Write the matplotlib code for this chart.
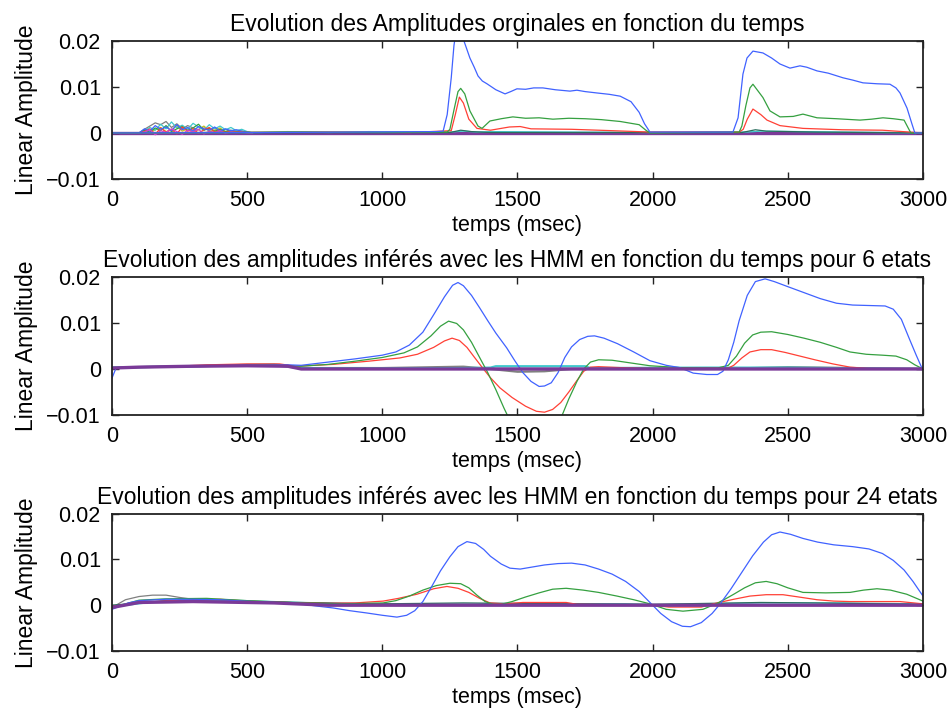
import matplotlib
matplotlib.use("Agg")
import matplotlib.pyplot as plt
from matplotlib.ticker import FixedLocator, FixedFormatter

plt.rcParams["font.family"] = ["Liberation Sans", "DejaVu Sans"]

# colours (MATLAB-like, as rendered)
C_BLUE = "#4062ff"
C_GREEN = "#35a040"
C_RED = "#ff4035"
C_CYAN = "#40c8cc"
C_GRAY = "#808080"
C_TEAL = "#2a6e5e"
C_YELLOW = "#c8c020"
C_MAG = "#d040d0"
C_PURPLE = "#7a3a98"

XTICKS = [0, 500, 1000, 1500, 2000, 2500, 3000]
YTICKS = [-0.01, 0, 0.01, 0.02]
YTICKLABELS = ["\u22120.01", "0", "0.01", "0.02"]

TITLES = [
    "Evolution des Amplitudes orginales en fonction du temps",
    "Evolution des amplitudes inférés avec les HMM en fonction du temps pour 6 etats",
    "Evolution des amplitudes inférés avec les HMM en fonction du temps pour 24 etats",
]

# ---------- subplot 1 : original amplitudes ----------
s1_blue_t = [0, 600, 900, 1200, 1225, 1240, 1255, 1265, 1275, 1290, 1305, 1324, 1340, 1354,
             1370, 1387, 1420, 1454, 1475, 1498, 1530, 1560, 1594, 1640, 1694, 1720, 1750,
             1794, 1840, 1880, 1920, 1950, 1970, 1990, 2297, 2316, 2334, 2349, 2371, 2408,
             2440, 2471, 2508, 2545, 2570, 2608, 2650, 2704, 2740, 2778, 2830, 2878, 2900,
             2915, 2941, 2959, 2970, 3000]
s1_blue_y = [0, 0.0001, 0.0002, 0.0003, 0.0004, 0.004, 0.012, 0.019, 0.023, 0.022, 0.0195,
             0.0163, 0.0143, 0.0124, 0.0113, 0.0107, 0.0094, 0.0085, 0.009, 0.0096, 0.0095,
             0.0098, 0.0098, 0.0094, 0.0091, 0.0093, 0.009, 0.0087, 0.0084, 0.008, 0.0068,
             0.0045, 0.002, 0.0002, 0.0002, 0.0033, 0.0128, 0.0163, 0.0178, 0.0174, 0.0163,
             0.015, 0.0141, 0.0146, 0.0143, 0.0135, 0.013, 0.012, 0.0115, 0.0109, 0.0107,
             0.0106, 0.0098, 0.0087, 0.0054, 0.002, 0, 0]

s1_green_t = [0, 700, 1000, 1240, 1250, 1265, 1280, 1290, 1305, 1324, 1354, 1369, 1398, 1440,
              1483, 1530, 1580, 1631, 1690, 1750, 1810, 1880, 1950, 1975, 1990, 2320, 2330,
              2345, 2360, 2371, 2408, 2434, 2471, 2520, 2556, 2608, 2680, 2767, 2810, 2852,
              2890, 2930, 2955, 3000]
s1_green_y = [0, 0.0002, 0.0001, 0.0002, 0.0008, 0.005, 0.009, 0.0097, 0.0085, 0.0048,
              0.0015, 0.001, 0.0026, 0.0031, 0.0035, 0.0032, 0.0033, 0.003, 0.0032, 0.0031,
              0.0029, 0.0025, 0.0018, 0.0006, 0, 0.0002, 0.0015, 0.006, 0.0098, 0.0106,
              0.0077, 0.0048, 0.0035, 0.0036, 0.0041, 0.0033, 0.0031, 0.0028, 0.003, 0.0033,
              0.0031, 0.0028, 0, 0]

s1_red_t = [0, 800, 1100, 1255, 1270, 1285, 1300, 1320, 1350, 1400, 1470, 1510, 1550, 1700,
            1850, 1990, 2320, 2335, 2350, 2371, 2400, 2423, 2471, 2556, 2700, 2850, 2950,
            3000]
s1_red_y = [0, 0.0002, 0.0001, 0.0005, 0.004, 0.0078, 0.0065, 0.003, 0.001, 0.0006, 0.0013,
            0.0014, 0.0009, 0.0008, 0.0005, 0.0002, 0.0002, 0.0008, 0.003, 0.0052, 0.004,
            0.0028, 0.0016, 0.001, 0.0007, 0.0006, 0.0002, 0]

s1_teal_t = [0, 1250, 1290, 1330, 1400, 2330, 2380, 2420, 2600, 3000]
s1_teal_y = [0, 0.0001, 0.0006, 0.0003, 0.0001, 0.0001, 0.0007, 0.0004, 0.0002, 0]

s1_cyan_t = [0, 550, 650, 800, 950, 1100, 1250, 1300, 1350, 1400, 2000, 2200, 2350, 2400, 3000]
s1_cyan_y = [0, 0.0001, 0.0003, 0.0001, 0.0003, 0.0002, 0.0002, 0.0004, 0.0002, 0.0003,
             0.0001, 0.0002, 0.0002, 0.0004, 0]

# noisy onset 100-520 ms
noise_t = [100, 120, 140, 160, 180, 200, 220, 240, 260, 280, 300, 320, 340, 360, 380, 400,
           420, 440, 460, 480, 500, 520]
noise_gray = [0, 0.0008, 0.0015, 0.0022, 0.0018, 0.0025, 0.0012, 0.002, 0.0009, 0.0016,
              0.0011, 0.0007, 0.0014, 0.0006, 0.001, 0.0004, 0.0008, 0.0003, 0.0005, 0.0002,
              0.0003, 0]
noise_cyan = [0, 0.0005, 0.0012, 0.0006, 0.0019, 0.0009, 0.0024, 0.0011, 0.0017, 0.0008,
              0.0021, 0.0013, 0.0006, 0.0018, 0.0009, 0.0015, 0.0007, 0.0012, 0.0005, 0.0008,
              0.0003, 0]
noise_blue = [0, 0.0009, 0.0004, 0.0016, 0.0008, 0.0013, 0.0005, 0.0018, 0.0007, 0.0012,
              0.0004, 0.0014, 0.0009, 0.0006, 0.0013, 0.0004, 0.0009, 0.0005, 0.0007, 0.0004,
              0.0002, 0]
noise_red = [0, 0.0003, 0.0009, -0.0003, 0.0011, 0.0002, 0.0008, -0.0002, 0.0013, 0.0004,
             0.0009, -0.0001, 0.0007, 0.0012, 0.0002, 0.0006, 0.0001, 0.0005, 0.0002, 0.0003,
             0.0001, 0]
noise_green = [0, 0.0006, 0.0002, 0.0011, 0.0005, 0.0016, 0.0003, 0.0009, 0.0014, 0.0005,
               0.0011, 0.0019, 0.0006, 0.001, 0.0004, 0.0008, 0.0003, 0.0006, 0.0002, 0.0004,
               0.0001, 0]
noise_mag = [0, 0.0002, 0.0007, -0.0004, 0.0005, 0.0001, 0.0009, 0.0003, -0.0003, 0.0006,
             0.0002, 0.0008, -0.0002, 0.0004, 0.0001, 0.0005, -0.0001, 0.0003, 0.0001, 0.0002,
             0, 0]
noise_yellow = [0, 0.0004, 0.0001, 0.0007, 0.0012, 0.0003, 0.0006, 0.0016, 0.0004, 0.0009,
                0.0002, 0.0007, 0.0015, 0.0003, 0.0006, 0.0011, 0.0002, 0.0005, 0.0003,
                0.0001, 0.0001, 0]

s1_base_t = [0, 3000]
s1_base_y = [0, 0]

# ---------- subplot 2 : HMM, 6 states ----------
s2_blue_t = [0, 15, 100, 300, 500, 650, 700, 800, 900, 1000, 1050, 1100, 1150, 1190, 1230,
             1260, 1280, 1300, 1330, 1360, 1390, 1420, 1460, 1490, 1520, 1550, 1580, 1600,
             1625, 1650, 1675, 1700, 1730, 1760, 1785, 1820, 1870, 1930, 1990, 2050, 2100,
             2150, 2200, 2240, 2260, 2280, 2300, 2320, 2350, 2380, 2416, 2450, 2500, 2560,
             2620, 2680, 2740, 2800, 2860, 2890, 2920, 2950, 2975, 2996]
s2_blue_y = [-0.002, 0.0002, 0.0004, 0.0005, 0.0007, 0.0009, 0.0008, 0.0015, 0.0022, 0.003,
             0.0037, 0.0052, 0.008, 0.0118, 0.0157, 0.0182, 0.0188, 0.0181, 0.016, 0.0133,
             0.0105, 0.0078, 0.0046, 0.0018, -0.0008, -0.0027, -0.0038, -0.0037, -0.003,
             -0.0008, 0.0025, 0.0048, 0.0064, 0.0071, 0.0072, 0.0067, 0.0055, 0.0037, 0.0018,
             0.0008, 0.0003, -0.0009, -0.0012, -0.0012, -0.0005, 0.002, 0.0058, 0.0105,
             0.016, 0.019, 0.0196, 0.019, 0.0179, 0.0166, 0.0153, 0.0143, 0.0139, 0.0138,
             0.0137, 0.013, 0.0108, 0.0065, 0.003, 0.0002]

s2_green_t = [0, 200, 400, 600, 700, 800, 900, 1000, 1080, 1130, 1180, 1215, 1245, 1275,
              1300, 1330, 1360, 1390, 1420, 1450, 1480, 1520, 1570, 1620, 1660, 1690, 1720,
              1745, 1770, 1800, 1850, 1920, 1990, 2100, 2240, 2280, 2310, 2340, 2370, 2400,
              2440, 2500, 2560, 2620, 2680, 2730, 2790, 2850, 2900, 2940, 2970, 3000]
s2_green_y = [0.0003, 0.0005, 0.0007, 0.0008, 0.0006, 0.001, 0.0017, 0.0025, 0.0035, 0.0048,
              0.0072, 0.0093, 0.0104, 0.0099, 0.0085, 0.0058, 0.0025, -0.0008, -0.0045,
              -0.0085, -0.0122, -0.0155, -0.017, -0.0155, -0.0108, -0.0065, -0.0027, 0,
              0.0015, 0.002, 0.0019, 0.0013, 0.0007, 0.0003, 0.0002, 0.0008, 0.0028, 0.0056,
              0.0074, 0.008, 0.0081, 0.0075, 0.0067, 0.0058, 0.0047, 0.0037, 0.0032, 0.003,
              0.0028, 0.002, 0.0009, 0]

s2_red_t = [0, 200, 350, 500, 620, 680, 818, 950, 1065, 1130, 1190, 1230, 1258, 1285, 1313,
            1340, 1370, 1400, 1435, 1480, 1530, 1570, 1600, 1630, 1660, 1690, 1720, 1745,
            1770, 1800, 1880, 2000, 2280, 2300, 2330, 2360, 2400, 2440, 2490, 2545, 2600,
            2667, 2730, 2800, 3000]
s2_red_y = [0.0002, 0.0005, 0.0009, 0.0011, 0.0011, 0.0006, 0.001, 0.0017, 0.0024, 0.0032,
            0.0047, 0.0061, 0.0067, 0.0062, 0.0047, 0.0026, 0.0003, -0.0019, -0.0041,
            -0.0062, -0.0081, -0.0092, -0.0094, -0.0088, -0.0073, -0.005, -0.0025, -0.0005,
            0.0004, 0.0005, 0.0003, 0.0001, 0.0002, 0.0008, 0.0024, 0.0037, 0.0042, 0.0042,
            0.0036, 0.0028, 0.002, 0.0011, 0.0004, 0.0001, 0]

s2_gray_t = [0, 200, 400, 600, 700, 1000, 1200, 1300, 1400, 1500, 1600, 1700, 2000, 2300,
             2500, 3000]
s2_gray_y = [0.0003, 0.0005, 0.0007, 0.0008, 0.0002, 0.0002, 0.0004, 0.0005, 0, -0.0006,
             -0.0005, 0, 0.0001, 0.0001, 0.0004, 0]

s2_cyan_t = [0, 300, 500, 600, 700, 1000, 1300, 1400, 1420, 1750, 1770, 2200, 2500, 3000]
s2_cyan_y = [0.0003, 0.0006, 0.0009, 0.001, 0.0002, 0.0001, 0.0002, 0.0003, 0.0006, 0.0006,
             0.0002, 0.0003, 0.0003, 0]

s2_base_t = [0, 100, 300, 500, 650, 700, 3000]
s2_base_y = [0.0002, 0.0004, 0.0006, 0.0007, 0.0006, 0, 0]

# ---------- subplot 3 : HMM, 24 states ----------
s3_blue_t = [0, 30, 60, 100, 200, 300, 400, 485, 600, 695, 760, 818, 880, 943, 1000, 1054,
             1090, 1120, 1150, 1180, 1215, 1250, 1280, 1313, 1345, 1375, 1400, 1440, 1472,
             1510, 1550, 1600, 1650, 1700, 1750, 1800, 1850, 1900, 1950, 1990, 2030, 2070,
             2110, 2140, 2180, 2220, 2250, 2290, 2330, 2370, 2410, 2440, 2471, 2510, 2556,
             2610, 2670, 2740, 2800, 2850, 2890, 2930, 2963, 3000]
s3_blue_y = [-0.0009, -0.0002, 0.0005, 0.001, 0.0013, 0.0013, 0.0012, 0.0009, 0.0006,
             0.0003, -0.0002, -0.0006, -0.0012, -0.0017, -0.0022, -0.0026, -0.0022, -0.0012,
             0.0008, 0.0038, 0.0075, 0.0106, 0.0128, 0.0139, 0.0135, 0.0122, 0.0107, 0.009,
             0.0081, 0.0079, 0.0083, 0.0088, 0.0091, 0.0092, 0.0088, 0.0079, 0.0068, 0.0052,
             0.003, 0.0006, -0.0018, -0.0036, -0.0046, -0.0047, -0.0038, -0.0018, 0.0003,
             0.0036, 0.0072, 0.0108, 0.0138, 0.0154, 0.016, 0.0155, 0.0146, 0.0138, 0.0132,
             0.0128, 0.0123, 0.0113, 0.0098, 0.0077, 0.0052, 0.002]

s3_green_t = [0, 100, 200, 350, 500, 700, 850, 1003, 1050, 1100, 1150, 1200, 1250, 1290,
              1320, 1350, 1380, 1410, 1440, 1480, 1530, 1580, 1630, 1680, 1743, 1800, 1868,
              1930, 1990, 2050, 2112, 2186, 2238, 2270, 2300, 2340, 2380, 2420, 2460, 2500,
              2556, 2640, 2730, 2780, 2830, 2880, 2940, 3000]
s3_green_y = [-0.0005, 0.0011, 0.0014, 0.0015, 0.001, 0.0005, 0.0003, 0.0005, 0.001, 0.002,
              0.0033, 0.0043, 0.0048, 0.0047, 0.0038, 0.0022, 0.0008, 0.0002, 0.0002, 0.0008,
              0.0018, 0.0027, 0.0035, 0.0037, 0.0033, 0.0028, 0.002, 0.0012, 0.0003, -0.0009,
              -0.0013, -0.0009, 0.0004, 0.0014, 0.0024, 0.0038, 0.0049, 0.0052, 0.0047,
              0.0038, 0.0028, 0.0027, 0.0028, 0.0033, 0.0036, 0.0033, 0.0024, 0.0009]

s3_red_t = [0, 100, 250, 400, 500, 700, 800, 900, 1003, 1060, 1128, 1190, 1239, 1280, 1320,
            1360, 1398, 1450, 1520, 1680, 1720, 2000, 2060, 2180, 2238, 2300, 2360, 2420,
            2482, 2540, 2608, 2670, 2730, 2915, 3000]
s3_red_y = [-0.0003, 0.0006, 0.0011, 0.0013, 0.0009, 0.0005, 0.0004, 0.0005, 0.0009, 0.0015,
            0.0024, 0.0036, 0.0041, 0.0037, 0.0028, 0.0015, 0.0005, 0.0003, 0.0006, 0.0006,
            0.0002, 0, -0.0004, -0.0004, 0.0005, 0.0013, 0.002, 0.0023, 0.0023, 0.0018,
            0.0012, 0.0009, 0.0008, 0.0008, 0.0003]

s3_gray_t = [0, 50, 100, 150, 200, 250, 300, 400, 500, 700, 1000, 3000]
s3_gray_y = [-0.0005, 0.0012, 0.0019, 0.0022, 0.0022, 0.0017, 0.0013, 0.0011, 0.0008,
             0.0005, 0.0002, 0.0001]

s3_cyan_t = [0, 200, 400, 600, 800, 1000, 1350, 1400, 1450, 1900, 2000, 2400, 2700, 3000]
s3_cyan_y = [-0.0004, 0.001, 0.0012, 0.0008, 0.0004, 0.0002, 0.0002, 0.0004, 0.0002, 0.0003,
             0.0001, 0.0005, 0.0005, 0.0003]

s3_teal_t = [0, 200, 500, 1000, 1300, 1500, 2000, 2400, 2600, 3000]
s3_teal_y = [0, 0.001, 0.0008, 0.0003, 0.0005, 0.0004, 0.0002, 0.0006, 0.0005, 0.0002]

s3_base_t = [0, 100, 300, 600, 800, 3000]
s3_base_y = [-0.0005, 0.0006, 0.0008, 0.0005, 0, 0]

FS = 15.5
FS_TITLE = 16.5


def style_axes(ax, title):
    ax.set_xlim(0, 3000)
    ax.set_ylim(-0.01, 0.02)
    ax.xaxis.set_major_locator(FixedLocator(XTICKS))
    ax.yaxis.set_major_locator(FixedLocator(YTICKS))
    ax.yaxis.set_major_formatter(FixedFormatter(YTICKLABELS))
    ax.tick_params(direction="in", length=5, width=1.0, top=True, right=True,
                   labelsize=FS, pad=8, color="#222222")
    for sp in ax.spines.values():
        sp.set_linewidth(1.3)
        sp.set_color("#222222")
    ax.set_title(title, fontsize=FS_TITLE, pad=7)
    ax.set_xlabel("temps (msec)", fontsize=FS, labelpad=2.5)
    ax.set_ylabel("Linear Amplitude", fontsize=16.5, labelpad=6)


fig = plt.figure(figsize=(9.53, 7.13), dpi=100)
rects = [
    [0.1175, 0.749, 0.851, 0.1935],
    [0.1175, 0.418, 0.851, 0.1935],
    [0.1175, 0.087, 0.851, 0.1925],
]
axes = [fig.add_axes(r) for r in rects]
lw = 0.9

# subplot 1
ax = axes[0]
ax.plot(s1_base_t, s1_base_y, color=C_PURPLE, lw=2.4, zorder=1)
ax.plot(noise_t, noise_gray, color=C_GRAY, lw=lw)
ax.plot(noise_t, noise_yellow, color=C_YELLOW, lw=lw)
ax.plot(noise_t, noise_cyan, color=C_CYAN, lw=lw)
ax.plot(noise_t, noise_green, color=C_GREEN, lw=lw)
ax.plot(noise_t, noise_red, color=C_RED, lw=lw)
ax.plot(noise_t, noise_blue, color=C_BLUE, lw=lw)
ax.plot(noise_t, noise_mag, color=C_MAG, lw=lw)
ax.plot(s1_cyan_t, s1_cyan_y, color=C_CYAN, lw=lw)
ax.plot(s1_teal_t, s1_teal_y, color=C_TEAL, lw=lw)
ax.plot(s1_red_t, s1_red_y, color=C_RED, lw=lw)
ax.plot(s1_green_t, s1_green_y, color=C_GREEN, lw=lw)
ax.plot(s1_blue_t, s1_blue_y, color=C_BLUE, lw=lw)
style_axes(ax, TITLES[0])

# subplot 2
ax = axes[1]
ax.plot(s2_gray_t, s2_gray_y, color=C_GRAY, lw=1.6)
ax.plot(s2_cyan_t, s2_cyan_y, color=C_CYAN, lw=1.6)
ax.plot(s2_red_t, s2_red_y, color=C_RED, lw=lw)
ax.plot(s2_green_t, s2_green_y, color=C_GREEN, lw=lw)
ax.plot(s2_blue_t, s2_blue_y, color=C_BLUE, lw=lw)
ax.plot(s2_base_t, s2_base_y, color=C_PURPLE, lw=2.4)
style_axes(ax, TITLES[1])

# subplot 3
ax = axes[2]
ax.plot(s3_gray_t, s3_gray_y, color=C_GRAY, lw=lw)
ax.plot(s3_cyan_t, s3_cyan_y, color=C_CYAN, lw=lw)
ax.plot(s3_teal_t, s3_teal_y, color=C_TEAL, lw=lw)
ax.plot(s3_red_t, s3_red_y, color=C_RED, lw=lw)
ax.plot(s3_green_t, s3_green_y, color=C_GREEN, lw=lw)
ax.plot(s3_blue_t, s3_blue_y, color=C_BLUE, lw=lw)
ax.plot(s3_base_t, s3_base_y, color=C_PURPLE, lw=2.4)
style_axes(ax, TITLES[2])

fig.savefig("out.png", dpi=100)
